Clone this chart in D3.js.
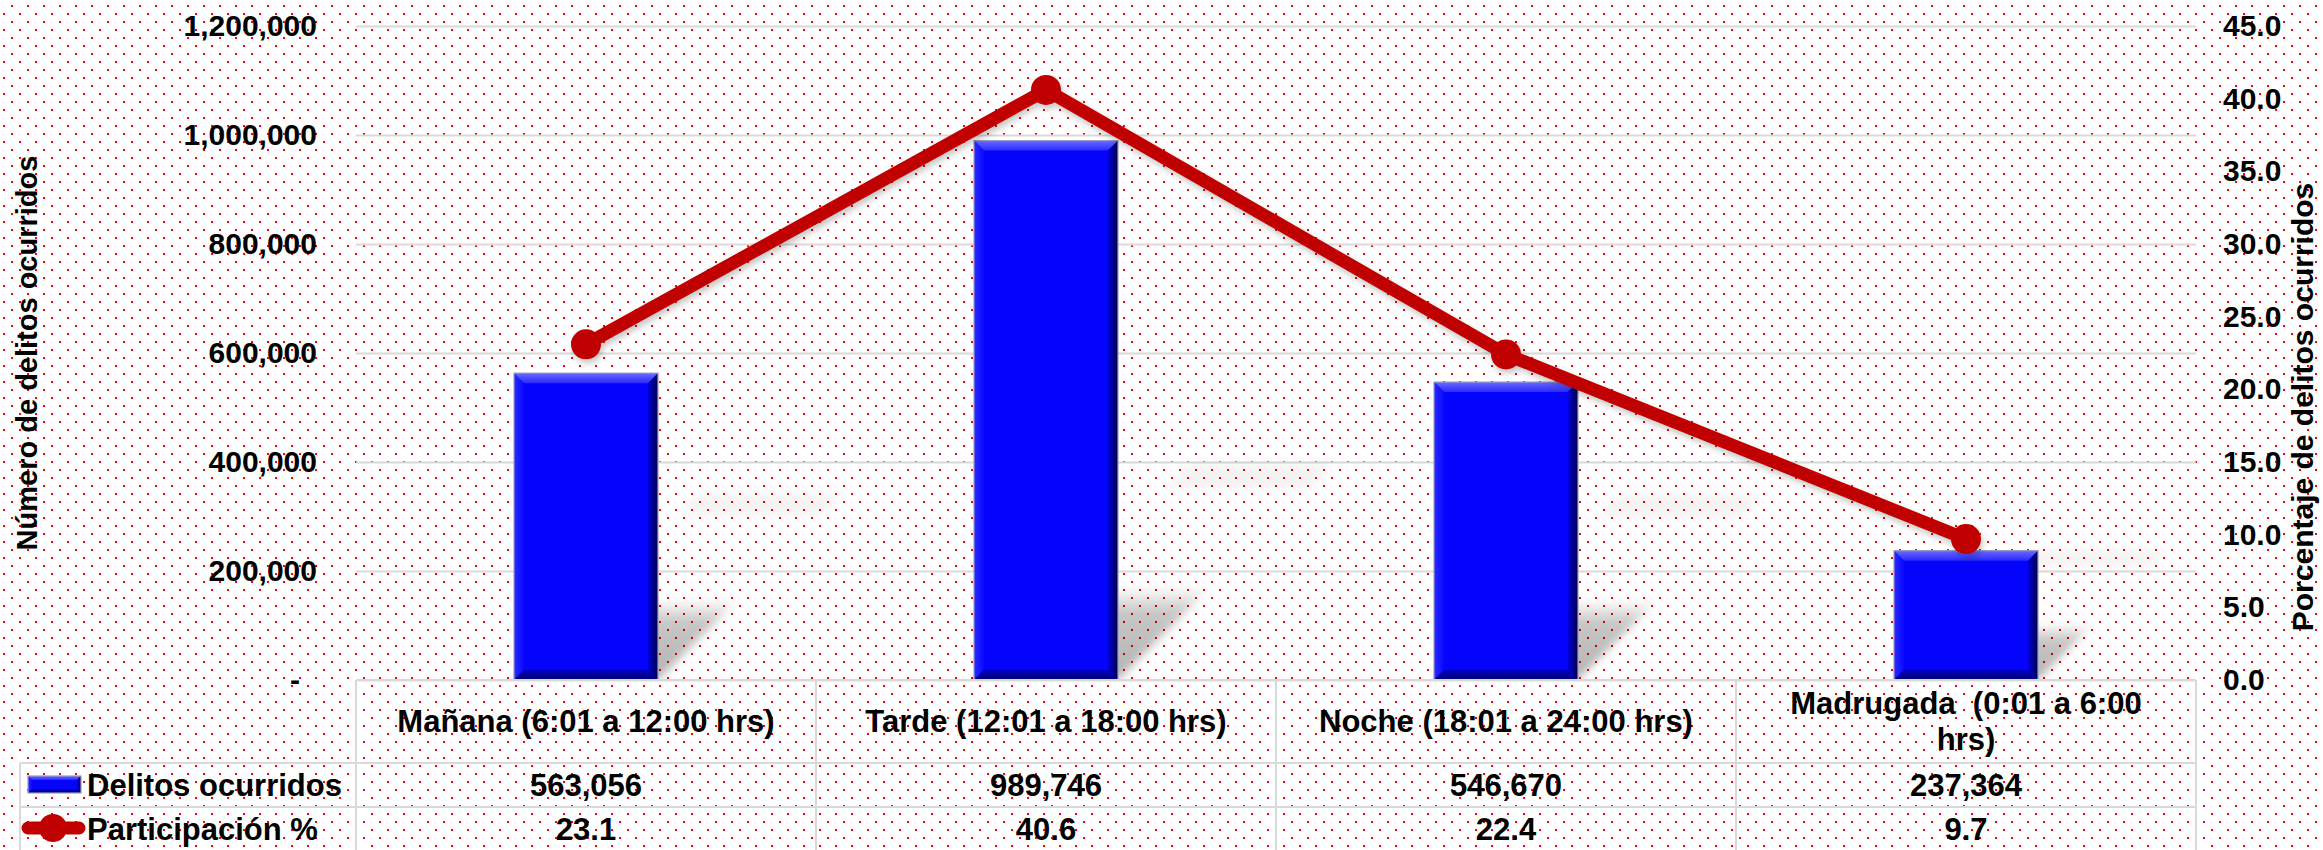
<!DOCTYPE html>
<html>
<head>
<meta charset="utf-8">
<script src="https://cdn.jsdelivr.net/npm/d3@7"></script>
<style>
	body { margin: 0; background: #fff; }
	#chart-area svg { display: block; }
	text { font-family: Arial, "Liberation Sans", sans-serif; font-weight: bold; fill: #000; }
</style>
</head>
<body>
<div id="chart-area"></div>
<script>

// Chart data
const categories = ["Mañana (6:01 a 12:00 hrs)", "Tarde (12:01 a 18:00 hrs)", "Noche (18:01 a 24:00 hrs)", "Madrugada  (0:01 a 6:00 hrs)"];
const delitos = [563056, 989746, 546670, 237364];
const participacion = [23.1, 40.6, 22.4, 9.7];
const seriesNames = ["Delitos ocurridos", "Participación %"];
const leftTicks = [0, 200000, 400000, 600000, 800000, 1000000, 1200000];
const rightTicks = [0, 5, 10, 15, 20, 25, 30, 35, 40, 45];
const axisTitles = ["Número de delitos ocurridos", "Porcentaje de delitos ocurridos"];

class ComboChart {

	constructor(parentElement) {
		this.parentElement = parentElement;
		this.displayData = categories.map((c, i) => ({
			category: c,
			delitos: delitos[i],
			pct: participacion[i]
		}));
	}

	initVis() {
		let vis = this;

		vis.W = 2323;
		vis.H = 850;
		vis.plot = {left: 356, right: 2196, top: 26, bottom: 680};
		vis.rows = [680, 763, 807, 851];
		vis.tableLeft = 20;
		vis.gridColor = "#D9D9D9";
		vis.red = "#C00000";

		vis.svg = d3.select("#" + vis.parentElement).append("svg")
			.attr("width", vis.W)
			.attr("height", vis.H);

		vis.initDefs();

		// background with dotted pattern
		vis.svg.append("rect").attr("width", vis.W).attr("height", vis.H).attr("fill", "#fff");
		vis.svg.append("rect").attr("width", vis.W).attr("height", vis.H).attr("fill", "url(#dots)");

		// Scales
		vis.x = d3.scaleBand()
			.domain(categories)
			.range([vis.plot.left, vis.plot.right])
			.padding(0);

		vis.y = d3.scaleLinear()
			.domain([0, 1200000])
			.range([vis.plot.bottom, vis.plot.top]);

		vis.y2 = d3.scaleLinear()
			.domain([0, 45])
			.range([vis.plot.bottom, vis.plot.top]);

		vis.updateVis();
	}

	initDefs() {
		let vis = this;
		let defs = vis.svg.append("defs");

		let pat = defs.append("pattern")
			.attr("id", "dots")
			.attr("patternUnits", "userSpaceOnUse")
			.attr("width", 16)
			.attr("height", 16);
		pat.append("rect").attr("x", 11).attr("y", 5).attr("width", 2).attr("height", 2).attr("fill", "#FF0000");
		pat.append("rect").attr("x", 3).attr("y", 13).attr("width", 2).attr("height", 2).attr("fill", "#FF0000");

		const grad = (id, x2, y2, stops, x1 = 0, y1 = 0) => {
			let g = defs.append("linearGradient").attr("id", id)
				.attr("x1", x1).attr("y1", y1).attr("x2", x2).attr("y2", y2);
			stops.forEach(s => g.append("stop")
				.attr("offset", s[0])
				.attr("stop-color", s[1])
				.attr("stop-opacity", s[2] === undefined ? 1 : s[2]));
		};
		grad("bevelTop", 0, 1, [[0, "#6a6aff"], [1, "#2a2aff"]]);
		grad("bevelLeft", 1, 0, [[0, "#2a2aff"], [1, "#0808ff"]]);
		grad("bevelRight", 1, 0, [[0, "#0000e0"], [1, "#000040"]]);
		grad("bevelBottom", 0, 1, [[0, "#0000c0"], [1, "#000070"]]);
		grad("shadowGrad", 0, 0, [[0, "#000", 0.3], [0.3, "#000", 0.22], [0.42, "#000", 0], [0.82, "#000", 0], [0.91, "#000", 0.06], [1, "#000", 0]], 0, 1);

		defs.append("filter").attr("id", "blur")
			.attr("x", "-20%").attr("y", "-20%").attr("width", "140%").attr("height", "140%")
			.append("feGaussianBlur").attr("stdDeviation", 4);

		defs.append("filter").attr("id", "lineShadow")
			.attr("x", "-10%").attr("y", "-10%").attr("width", "120%").attr("height", "130%")
			.append("feDropShadow")
			.attr("dx", 2).attr("dy", 4).attr("stdDeviation", 3)
			.attr("flood-color", "#000").attr("flood-opacity", 0.22);

		defs.append("clipPath").attr("id", "plotClip")
			.append("rect")
			.attr("x", vis.plot.left).attr("y", 0)
			.attr("width", vis.W - vis.plot.left).attr("height", vis.plot.bottom);
	}

	// bevelled blue block, used for bars and the legend key
	drawBevelBar(g, x0, y0, w, h, b) {
		let x1 = x0 + w, y1 = y0 + h;
		g.append("rect").attr("x", x0).attr("y", y0).attr("width", w).attr("height", h)
			.attr("fill", "#0404fc");
		const poly = (pts, fill) => g.append("polygon")
			.attr("points", pts.map(p => p.join(",")).join(" "))
			.attr("fill", fill);
		poly([[x0, y0], [x1, y0], [x1 - b, y0 + b], [x0 + b, y0 + b]], "url(#bevelTop)");
		poly([[x0, y0], [x0 + b, y0 + b], [x0 + b, y1 - b], [x0, y1]], "url(#bevelLeft)");
		poly([[x0, y1], [x0 + b, y1 - b], [x1 - b, y1 - b], [x1, y1]], "url(#bevelBottom)");
		poly([[x1, y0], [x1, y1], [x1 - b, y1 - b], [x1 - b, y0 + b]], "url(#bevelRight)");
		g.append("rect").attr("x", x0).attr("y", y0).attr("width", w).attr("height", h)
			.attr("fill", "none").attr("stroke", "#9a9ac8").attr("stroke-width", 1.2);
	}

	updateVis() {
		let vis = this;
		let bw = vis.x.bandwidth();
		let barW = bw * 0.313;
		let cx = d => vis.x(d.category) + bw / 2;

		// gridlines
		vis.svg.append("g")
			.attr("class", "grid")
			.attr("transform", `translate(${vis.plot.left},0)`)
			.call(d3.axisLeft(vis.y).tickValues(leftTicks).tickSize(-(vis.plot.right - vis.plot.left)).tickFormat(""))
			.call(g => g.select(".domain").remove())
			.selectAll("line")
			.attr("stroke", vis.gridColor)
			.attr("stroke-width", 2);

		// left axis
		let yAxis = vis.svg.append("g")
			.attr("class", "y-axis")
			.attr("transform", `translate(${vis.plot.left},0)`)
			.call(d3.axisLeft(vis.y)
				.tickValues(leftTicks)
				.tickSize(0)
				.tickPadding(39)
				.tickFormat(d => d === 0 ? "-" : d3.format(",")(d)));
		yAxis.select(".domain").remove();
		yAxis.selectAll("text").style("font-size", "30px");
		yAxis.selectAll(".tick").filter(d => d === 0).select("text").attr("x", -56);

		// right axis
		let y2Axis = vis.svg.append("g")
			.attr("class", "y2-axis")
			.attr("transform", `translate(${vis.plot.right},0)`)
			.call(d3.axisRight(vis.y2)
				.tickValues(rightTicks)
				.tickSize(0)
				.tickPadding(27)
				.tickFormat(d3.format(".1f")));
		y2Axis.select(".domain").remove();
		y2Axis.selectAll("text").style("font-size", "30px");

		// axis titles
		vis.svg.append("text")
			.attr("transform", "rotate(-90)")
			.attr("x", -(vis.plot.top + vis.plot.bottom) / 2)
			.attr("y", 37)
			.attr("text-anchor", "middle")
			.style("font-size", "29px")
			.text(axisTitles[0]);

		vis.svg.append("text")
			.attr("transform", "rotate(-90)")
			.attr("x", -407)
			.attr("y", 2313)
			.attr("text-anchor", "middle")
			.style("font-size", "30px")
			.text(axisTitles[1]);

		// bar shadows (perspective, fading backwards)
		let shadowG = vis.svg.append("g").attr("clip-path", "url(#plotClip)");
		vis.displayData.forEach(d => {
			let x0 = cx(d) - barW / 2, x1 = x0 + barW;
			let h = vis.plot.bottom - vis.y(d.delitos);
			let f = 284 * h / (145 + h);
			let base = vis.plot.bottom;
			shadowG.append("polygon")
				.attr("points", [[x0, base], [x1, base], [x1 + f, base - f], [x0 + f, base - f]].map(p => p.join(",")).join(" "))
				.attr("fill", "url(#shadowGrad)")
				.attr("filter", "url(#blur)");
		});

		// bars
		let barG = vis.svg.append("g").attr("class", "bars");
		vis.displayData.forEach(d => {
			let g = barG.append("g");
			let top = vis.y(d.delitos);
			vis.drawBevelBar(g, cx(d) - barW / 2, top, barW, vis.plot.bottom - top, 10);
		});

		// line + markers
		let lineG = vis.svg.append("g").attr("class", "pct-line").attr("filter", "url(#lineShadow)");
		lineG.append("path")
			.datum(vis.displayData)
			.attr("fill", "none")
			.attr("stroke", vis.red)
			.attr("stroke-width", 13)
			.attr("stroke-linejoin", "round")
			.attr("d", d3.line().x(cx).y(d => vis.y2(d.pct)));
		lineG.selectAll("circle")
			.data(vis.displayData)
			.enter().append("circle")
			.attr("cx", cx)
			.attr("cy", d => vis.y2(d.pct))
			.attr("r", 15)
			.attr("fill", vis.red);

		vis.drawTable(cx);
	}

	drawTable(cx) {
		let vis = this;
		let t = vis.svg.append("g").attr("class", "data-table");
		let r = vis.rows;
		let fs = 31;
		let border = (x1, y1, x2, y2) => t.append("line")
			.attr("x1", x1).attr("y1", y1).attr("x2", x2).attr("y2", y2)
			.attr("stroke", vis.gridColor).attr("stroke-width", 2);

		// horizontal borders
		border(vis.plot.left, r[0], vis.plot.right, r[0]);
		border(vis.tableLeft, r[1], vis.plot.right, r[1]);
		border(vis.tableLeft, r[2], vis.plot.right, r[2]);
		border(vis.tableLeft, r[3], vis.plot.right, r[3]);

		// vertical borders
		border(vis.tableLeft, r[1], vis.tableLeft, r[3]);
		let edges = categories.map(c => vis.x(c)).concat([vis.plot.right]);
		edges.forEach(x => border(x, r[0], x, r[3]));

		// header labels, wrapped to the column
		let maxW = vis.x.bandwidth() - 50;
		let lineH = 36;
		vis.displayData.forEach(d => {
			let txt = t.append("text")
				.attr("text-anchor", "middle")
				.style("font-size", fs + "px")
				.style("white-space", "pre");
			let words = d.category.split(" ");
			let lines = [];
			let cur = "";
			let probe = txt.append("tspan");
			words.forEach(w => {
				let test = cur === "" ? w : cur + " " + w;
				probe.text(test);
				if (probe.node().getComputedTextLength() > maxW && cur !== "") {
					lines.push(cur);
					cur = w;
				} else {
					cur = test;
				}
			});
			lines.push(cur);
			probe.remove();
			let mid = (r[0] + r[1]) / 2 + fs * 0.35 - (lines.length - 1) * lineH / 2;
			lines.forEach((l, i) => {
				txt.append("tspan")
					.attr("x", cx(d))
					.attr("y", mid + i * lineH)
					.text(l);
			});
		});

		// value rows
		let rowMid = i => (r[i + 1] + r[i + 2]) / 2 + fs * 0.35;
		vis.displayData.forEach(d => {
			t.append("text").attr("x", cx(d)).attr("y", rowMid(0))
				.attr("text-anchor", "middle").style("font-size", fs + "px")
				.text(d3.format(",")(d.delitos));
			t.append("text").attr("x", cx(d)).attr("y", rowMid(1))
				.attr("text-anchor", "middle").style("font-size", fs + "px")
				.text(d3.format(".1f")(d.pct));
		});

		// legend keys
		let key1 = t.append("g");
		vis.drawBevelBar(key1, 28, 776, 53, 17, 4);
		let keyY = (r[2] + r[3]) / 2 - 1;
		let key2 = t.append("g");
		key2.append("line")
			.attr("x1", 28).attr("x2", 79)
			.attr("y1", keyY).attr("y2", keyY)
			.attr("stroke", vis.red).attr("stroke-width", 13)
			.attr("stroke-linecap", "round");
		key2.append("circle").attr("cx", 53).attr("cy", keyY).attr("r", 14).attr("fill", vis.red);

		seriesNames.forEach((s, i) => {
			t.append("text").attr("x", 87).attr("y", rowMid(i))
				.style("font-size", fs + "px")
				.text(s);
		});
	}
}

let chart = new ComboChart("chart-area");
chart.initVis();

</script>
</body>
</html>
